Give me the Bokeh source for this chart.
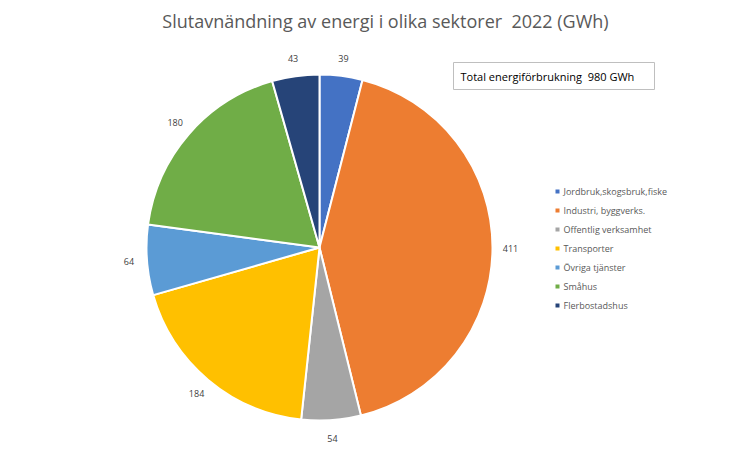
import numpy as np
from bokeh.plotting import figure
from bokeh.models import Range1d, ColumnDataSource, Label
from bokeh.core.properties import value
from bokeh.embed import file_html
from bokeh.resources import INLINE

categories = ["Jordbruk,skogsbruk,fiske", "Industri, byggverks.", "Offentlig verksamhet",
              "Transporter", "Övriga tjänster", "Småhus", "Flerbostadshus"]
values = [39, 411, 54, 184, 64, 180, 43]
colors = ["#4472C4", "#ED7D31", "#A5A5A5", "#FFC000", "#5B9BD5", "#70AD47", "#264478"]
title_text = "Slutavnändning av energi i olika sektorer \u00a02022 (GWh)"
total_text = "Total energiförbrukning \u00a0980 GWh"

W, H = 740, 446
FONT = "Open Sans"

p = figure(width=W, height=H, output_backend="svg", toolbar_location=None,
           x_range=Range1d(0, W), y_range=Range1d(-H, 0),
           min_border=0)
p.axis.visible = False
p.grid.visible = False
p.outline_line_color = None
p.background_fill_color = "white"

cx, cy, R = 319, -247, 173
vals = np.array(values, dtype=float)
tot = vals.sum()
cum = np.concatenate([[0], np.cumsum(vals)])
start = np.pi / 2 - cum[1:] / tot * 2 * np.pi
end = np.pi / 2 - cum[:-1] / tot * 2 * np.pi
mid = (start + end) / 2

src = ColumnDataSource(dict(start=start, end=end, color=colors, cat=categories))
p.wedge(x=cx, y=cy, radius=R, start_angle="start", end_angle="end",
        fill_color="color", line_color="white", line_width=2, source=src)

# data labels
LR = R + 18
lx = cx + LR * np.cos(mid)
ly = cy + LR * np.sin(mid)
lsrc = ColumnDataSource(dict(x=lx, y=ly, t=[str(v) for v in values]))
p.text(x="x", y="y", text="t", source=lsrc, text_font=value(FONT), text_font_size="9px",
       text_color="#404040", text_align="center", text_baseline="middle")

# title
p.add_layout(Label(x=385, y=-20, text=title_text, text_font=FONT, text_font_size="18px",
                   text_color="#595959", text_align="center", text_baseline="middle"))

# total box
p.quad(left=453, right=654, top=-62, bottom=-89, fill_color="white",
       line_color="#BFBFBF", line_width=1)
p.add_layout(Label(x=460, y=-75.5, text=total_text, text_font=FONT, text_font_size="11px",
                   text_color="#000000", text_align="left", text_baseline="middle"))

# legend
ly0 = -191
step = 19
leg_y = [ly0 - i * step for i in range(len(categories))]
legsrc = ColumnDataSource(dict(x=[557] * len(categories), y=leg_y, color=colors,
                               tx=[563] * len(categories), t=categories))
p.rect(x="x", y="y", width=4, height=4, fill_color="color", line_color=None, source=legsrc)
p.text(x="tx", y="y", text="t", source=legsrc, text_font=value(FONT), text_font_size="9px",
       text_color="#595959", text_align="left", text_baseline="middle")

open("out.html", "w").write(file_html(p, INLINE))
